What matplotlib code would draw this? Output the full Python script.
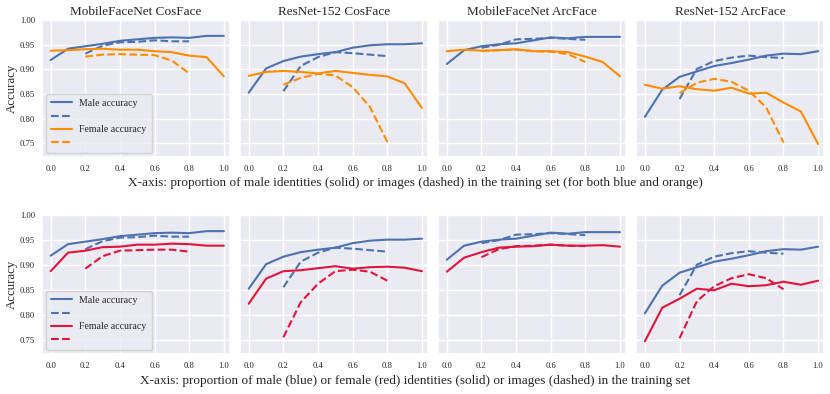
import numpy as np
import matplotlib
matplotlib.use("Agg")
import matplotlib.pyplot as plt
import seaborn as sns

sns.set_theme(style="darkgrid")
plt.rcParams['font.family'] = ['Liberation Serif', 'DejaVu Serif']

# proportions on the x axis
x_solid = [0.0, 0.1, 0.2, 0.3, 0.4, 0.5, 0.6, 0.7, 0.8, 0.9, 1.0]
x_dash = [0.2, 0.3, 0.4, 0.5, 0.6, 0.7, 0.8]

titles = ["MobileFaceNet CosFace", "ResNet-152 CosFace",
          "MobileFaceNet ArcFace", "ResNet-152 ArcFace"]

# male accuracy (same in both rows)
male_solid = [
    [0.919, 0.942, 0.947, 0.952, 0.958, 0.961, 0.964, 0.965, 0.964, 0.968, 0.968],
    [0.853, 0.902, 0.917, 0.926, 0.931, 0.935, 0.944, 0.949, 0.951, 0.951, 0.953],
    [0.911, 0.939, 0.947, 0.951, 0.953, 0.959, 0.965, 0.963, 0.966, 0.966, 0.966],
    [0.804, 0.859, 0.885, 0.896, 0.907, 0.913, 0.920, 0.928, 0.932, 0.931, 0.937],
]
male_dash = [
    [0.932, 0.948, 0.955, 0.956, 0.959, 0.957, 0.957],
    [0.856, 0.907, 0.925, 0.935, 0.933, 0.930, 0.927],
    [0.944, 0.950, 0.961, 0.962, 0.964, 0.962, 0.960],
    [0.840, 0.901, 0.917, 0.924, 0.928, 0.925, 0.923],
]

# top row: female accuracy vs proportion of male identities / images
female_solid_top = [
    [0.938, 0.939, 0.941, 0.942, 0.940, 0.940, 0.937, 0.935, 0.928, 0.925, 0.886],
    [0.887, 0.895, 0.897, 0.895, 0.892, 0.897, 0.893, 0.889, 0.886, 0.872, 0.822],
    [0.937, 0.940, 0.938, 0.939, 0.941, 0.937, 0.937, 0.935, 0.926, 0.915, 0.886],
    [0.869, 0.861, 0.866, 0.860, 0.857, 0.863, 0.851, 0.853, 0.833, 0.815, 0.749],
]
female_dash_top = [
    [0.926, 0.930, 0.931, 0.930, 0.929, 0.918, 0.892],
    [0.869, 0.883, 0.891, 0.888, 0.864, 0.824, 0.753],
    [0.937, 0.939, 0.940, 0.937, 0.936, 0.931, 0.915],
    [0.852, 0.873, 0.881, 0.875, 0.857, 0.823, 0.752],
]

# bottom row: female accuracy vs proportion of female identities / images
female_solid_bot = [
    [0.888, 0.925, 0.929, 0.936, 0.937, 0.941, 0.941, 0.943, 0.942, 0.939, 0.939],
    [0.823, 0.873, 0.888, 0.890, 0.894, 0.898, 0.893, 0.896, 0.897, 0.895, 0.888],
    [0.887, 0.915, 0.926, 0.935, 0.937, 0.938, 0.941, 0.939, 0.939, 0.940, 0.937],
    [0.748, 0.815, 0.833, 0.853, 0.850, 0.863, 0.858, 0.860, 0.867, 0.861, 0.869],
]
female_dash_bot = [
    [0.893, 0.918, 0.929, 0.930, 0.931, 0.931, 0.927],
    [0.756, 0.826, 0.863, 0.888, 0.891, 0.887, 0.869],
    [0.916, 0.932, 0.938, 0.939, 0.941, 0.939, 0.938],
    [0.754, 0.828, 0.858, 0.874, 0.882, 0.874, 0.852],
]

xlabel_top = ("X-axis: proportion of male identities (solid) or images (dashed) "
              "in the training set (for both blue and orange)")
xlabel_bot = ("X-axis: proportion of male (blue) or female (red) identities (solid) "
              "or images (dashed) in the training set")

BLUE = "#4c72b0"
ORANGE = "#ff8c00"
RED = "#e0143c"

fig = plt.figure(figsize=(8.3, 3.94), dpi=100)
gs_top = fig.add_gridspec(1, 4, left=0.0506, right=0.993, top=0.949, bottom=0.602, wspace=0.054)
gs_bot = fig.add_gridspec(1, 4, left=0.0506, right=0.993, top=0.454, bottom=0.102, wspace=0.054)

rows = [(gs_top, female_solid_top, female_dash_top, ORANGE, 1 - 88 / 394),
        (gs_bot, female_solid_bot, female_dash_bot, RED, 1 - 284 / 394)]

for r, (gs, f_solid, f_dash, fcol, ylab_y) in enumerate(rows):
    for i in range(4):
        ax = fig.add_subplot(gs[0, i])
        ax.plot(x_solid, male_solid[i], color=BLUE, lw=1.5, label="Male accuracy")
        ax.plot(x_dash, male_dash[i], color=BLUE, lw=1.5, ls="--", label=" ")
        ax.plot(x_solid, f_solid[i], color=fcol, lw=1.5, label="Female accuracy")
        ax.plot(x_dash, f_dash[i], color=fcol, lw=1.5, ls="--", label=" ")
        ax.set_ylim(0.723, 1.0)
        ax.set_xlim(-0.05, 1.035)
        ax.set_xticks([0.0, 0.2, 0.4, 0.6, 0.8, 1.0])
        ax.set_yticks([0.75, 0.80, 0.85, 0.90, 0.95, 1.00])
        ax.tick_params(axis="both", labelsize=6.2, length=0)
        ax.tick_params(axis="y", pad=5)
        ax.tick_params(axis="x", pad=6)
        if r == 0:
            ax.set_title(titles[i], fontsize=9.5, pad=4)
        if i == 0:
            ax.legend(loc="lower left", fontsize=7.1, handlelength=2.1,
                      borderpad=0.5, labelspacing=0.45, framealpha=0.8,
                      bbox_to_anchor=(0.0, 0.0), borderaxespad=0.4)
        else:
            ax.set_yticklabels([])
    fig.text(12 / 830, ylab_y, "Accuracy", rotation=90, ha="center", va="center", fontsize=9.3)

fig.text(0.5, 1 - 183 / 394, xlabel_top, ha="center", va="center", fontsize=9.5)
fig.text(0.5, 1 - 381 / 394, xlabel_bot, ha="center", va="center", fontsize=9.5)

fig.savefig("out.png", dpi=100)
